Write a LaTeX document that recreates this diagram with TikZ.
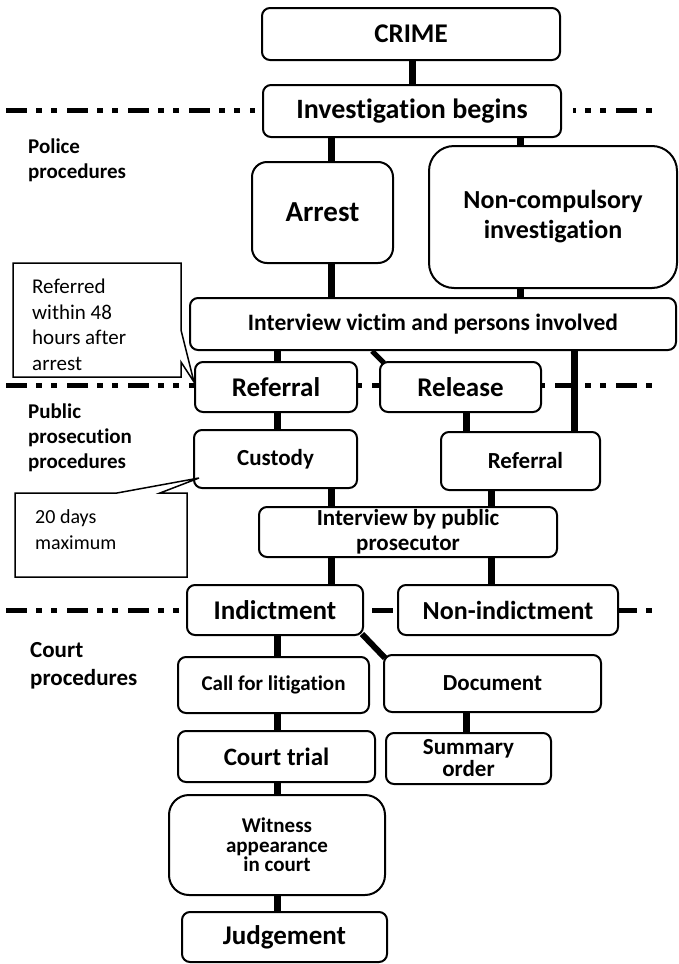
\documentclass[tikz,border=0pt]{standalone}
\usepackage{fontspec}
\setmainfont{Carlito}[Ligatures=NoCommon]
\usetikzlibrary{backgrounds}
\newcommand{\bfz}[2]{\fontsize{#1}{#2}\selectfont\bfseries}
\newcommand{\rgz}[2]{\fontsize{#1}{#2}\selectfont}
\tikzset{
  box/.style={draw, line width=2pt, rounded corners=8pt, fill=white, inner sep=0pt, align=center},
  conn/.style={line width=7pt},
  sepline/.style={line width=5pt, dash pattern=on 21pt off 9pt on 6pt off 9pt on 6pt off 10pt},
  calloutbox/.style={draw, line width=1.5pt, fill=white, line join=miter},
  lbl/.style={anchor=west, align=left, inner sep=0pt}
}
\begin{document}
\begin{tikzpicture}[x=1pt,y=-1pt]
\useasboundingbox (0,0) rectangle (679,964);

% boxes
\node[box, minimum width=298pt, minimum height=52pt, font=\bfz{27}{30}] (crime) at (411,34) {CRIME};
\node[box, minimum width=298pt, minimum height=52pt, font=\bfz{28}{30}] (inv) at (412,111) {Investigation begins};
\node[box, rounded corners=15pt, minimum width=141pt, minimum height=101pt, font=\bfz{29}{30}] (arrest) at (322.5,212.5) {Arrest};
\node[box, rounded corners=25pt, minimum width=248pt, minimum height=142pt, font=\bfz{26}{30}] (noncomp) at (553,217) {Non-compulsory\\investigation};
\node[box, minimum width=486pt, minimum height=52pt, font=\bfz{23.5}{26}] (ivictim) at (433,324) {Interview victim and persons involved};
\node[box, minimum width=162pt, minimum height=50pt, font=\bfz{27}{30}] (ref1) at (276,387) {Referral};
\node[box, minimum width=161pt, minimum height=50pt, font=\bfz{27}{30}] (rel) at (460.5,387) {Release};
\node[box, minimum width=163pt, minimum height=58pt, font=\bfz{23}{26}] (custody) at (275.5,459) {Custody};
\node[box, minimum width=159pt, minimum height=58pt, font=\bfz{23}{26}] (ref2) at (520.5,461) {\hspace*{10pt}Referral};
\node[box, minimum width=298pt, minimum height=50pt, font=\bfz{23}{25}] (ipp) at (408,532) {Interview by public\\prosecutor};
\node[box, minimum width=176pt, minimum height=50pt, font=\bfz{27}{30}] (indict) at (275,610) {Indictment};
\node[box, minimum width=220pt, minimum height=50pt, font=\bfz{26}{30}] (nonind) at (508,610) {Non-indictment};
\node[box, minimum width=191pt, minimum height=56pt, font=\bfz{21}{24}] (call) at (273.5,685) {Call for litigation};
\node[box, minimum width=217pt, minimum height=57pt, font=\bfz{23}{26}] (doc) at (492.5,683.5) {Document};
\node[box, minimum width=197pt, minimum height=51pt, font=\bfz{25}{28}] (court) at (276.5,756.5) {Court trial};
\node[box, minimum width=165pt, minimum height=51pt, font=\bfz{23}{22}] (summ) at (468.5,758.5) {Summary\\order};
\node[box, rounded corners=20pt, minimum width=216pt, minimum height=100pt, font=\bfz{21}{19.5}] (wit) at (277,845) {Witness\\appearance\\in court};
\node[box, minimum width=205pt, minimum height=50pt, font=\bfz{27}{30}] (judge) at (284.5,937) {Judgement};

% section labels
\node[lbl, font=\bfz{21}{25}] (lpol) at (28,160) {Police\\procedures};
\node[lbl, font=\bfz{21}{25}] (lpub) at (28,438) {Public\\prosecution\\procedures};
\node[lbl, font=\bfz{23}{28}] (lcourt) at (30,666) {Court\\procedures};

% callouts
\draw[calloutbox] (13,263) -- (181,263) -- (181,330) -- ([yshift=5pt]ref1.west) -- (181,362) -- (181,377) -- (13,377) -- cycle;
\node[lbl, font=\rgz{21}{25.5}] (c1) at (32,325) {Referred\\within 48\\hours after\\arrest};
\draw[calloutbox] (15,493) -- (117,493) -- ([shift={(6pt,11pt)}]custody.south west) -- (160,493) -- (187,493) -- (187,577) -- (15,577) -- cycle;
\node[lbl, font=\rgz{20}{26}] (c2) at (35,530) {20 days\\maximum};

% column coordinates
\coordinate (xa) at (277,0);
\coordinate (xb) at (331,0);
\coordinate (xc) at (466,0);
\coordinate (xd) at (491,0);
\coordinate (xe) at (520,0);
\coordinate (xf) at (574,0);
\coordinate (xg) at (372,0);

\begin{scope}[on background layer]
\fill[white] (0,0) rectangle (679,964);
\draw[sepline] (6,110) -- (255,110);
\draw[sepline, dash phase=18pt] (573,110) -- (653,110);
\draw[sepline] (6,385) -- (653,385);
\draw[sepline] (6,610) -- (653,610);

\draw[conn] (crime.south -| inv) -- (inv.north);
\draw[conn] (inv.south -| xb) -- (arrest.north -| xb);
\draw[conn] (inv.south -| xe) -- (noncomp.north -| xe);
\draw[conn] (arrest.south -| xb) -- (ivictim.north -| xb);
\draw[conn] (noncomp.south -| xe) -- (ivictim.north -| xe);
\draw[conn] (ivictim.south -| xa) -- (ref1.north -| xa);
\draw[conn, line width=5pt] (ivictim.south -| xg) -- ([shift={(5pt,-2pt)}]rel.north west);
\draw[conn] (ivictim.south -| xf) -- (ref2.north -| xf);
\draw[conn] (rel.south -| xc) -- (ref2.north -| xc);
\draw[conn] (ref1.south -| xa) -- (custody.north -| xa);
\draw[conn] (custody.south -| xb) -- (ipp.north -| xb);
\draw[conn] (ref2.south -| xd) -- (ipp.north -| xd);
\draw[conn] (ipp.south -| xb) -- (indict.north -| xb);
\draw[conn] (ipp.south -| xd) -- (nonind.north -| xd);
\draw[conn] (indict.south -| xa) -- (call.north -| xa);
\draw[conn, line width=6pt] ([shift={(-2pt,2pt)}]indict.south east) -- ([shift={(2pt,-4pt)}]doc.north west);
\draw[conn] (doc.south -| xc) -- (summ.north -| xc);
\draw[conn] (call.south -| xa) -- (court.north -| xa);
\draw[conn] (court.south -| xa) -- (wit.north -| xa);
\draw[conn] (wit.south -| xa) -- (judge.north -| xa);
\end{scope}
\end{tikzpicture}
\end{document}
